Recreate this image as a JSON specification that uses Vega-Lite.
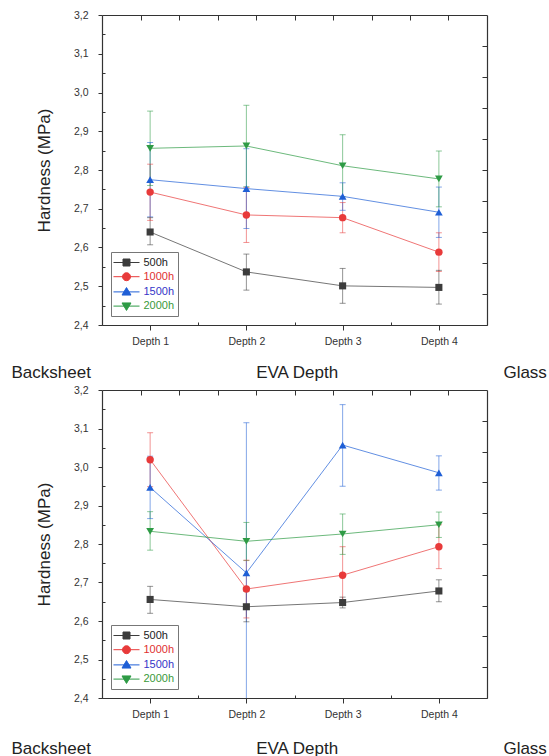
{
  "$schema": "https://vega.github.io/schema/vega-lite/v6.json",
  "padding": {"left": 11, "top": 10, "right": 0, "bottom": 0},
  "spacing": 5,
  "config": {
    "font": "Liberation Sans",
    "view": {"stroke": null},
    "legend": {
      "orient": "bottom-left", "offset": 9, "title": null, "padding": 3, "strokeColor": "#777", "fillColor": "white",
      "labelFont": "Liberation Sans", "labelFontSize": 11, "symbolSize": 196, "rowPadding": 1.2, "labelOffset": 9.5,
      "symbolOffset": 5, "symbolOpacity": 1, "symbolStrokeWidth": 1
    },
    "axis": {
      "domainColor": "#333",
      "domainWidth": 1.2,
      "tickColor": "#333",
      "tickWidth": 1,
      "grid": false,
      "labelFont": "Liberation Sans",
      "labelFontSize": 10.5,
      "labelColor": "#333",
      "titleFont": "Liberation Sans",
      "titleFontWeight": "normal",
      "titleColor": "#222",
      "titleFontSize": 17,
      "labelOverlap": false,
      "labelFlush": false
    }
  },
  "datasets": {
    "hardness": [
      {"panel": "top", "series": "500h", "depth": 1, "h": 2.640, "lo": 2.607, "hi": 2.677},
      {"panel": "top", "series": "500h", "depth": 2, "h": 2.537, "lo": 2.490, "hi": 2.583},
      {"panel": "top", "series": "500h", "depth": 3, "h": 2.501, "lo": 2.456, "hi": 2.546},
      {"panel": "top", "series": "500h", "depth": 4, "h": 2.497, "lo": 2.454, "hi": 2.541},
      {"panel": "top", "series": "1000h", "depth": 1, "h": 2.743, "lo": 2.670, "hi": 2.815},
      {"panel": "top", "series": "1000h", "depth": 2, "h": 2.684, "lo": 2.613, "hi": 2.755},
      {"panel": "top", "series": "1000h", "depth": 3, "h": 2.677, "lo": 2.638, "hi": 2.716},
      {"panel": "top", "series": "1000h", "depth": 4, "h": 2.588, "lo": 2.538, "hi": 2.638},
      {"panel": "top", "series": "1500h", "depth": 1, "h": 2.775, "lo": 2.679, "hi": 2.871},
      {"panel": "top", "series": "1500h", "depth": 2, "h": 2.752, "lo": 2.649, "hi": 2.855},
      {"panel": "top", "series": "1500h", "depth": 3, "h": 2.732, "lo": 2.696, "hi": 2.767},
      {"panel": "top", "series": "1500h", "depth": 4, "h": 2.691, "lo": 2.626, "hi": 2.756},
      {"panel": "top", "series": "2000h", "depth": 1, "h": 2.856, "lo": 2.760, "hi": 2.952},
      {"panel": "top", "series": "2000h", "depth": 2, "h": 2.862, "lo": 2.757, "hi": 2.967},
      {"panel": "top", "series": "2000h", "depth": 3, "h": 2.811, "lo": 2.731, "hi": 2.891},
      {"panel": "top", "series": "2000h", "depth": 4, "h": 2.777, "lo": 2.705, "hi": 2.849},
      {"panel": "bottom", "series": "500h", "depth": 1, "h": 2.656, "lo": 2.620, "hi": 2.690},
      {"panel": "bottom", "series": "500h", "depth": 2, "h": 2.637, "lo": 2.598, "hi": 2.677},
      {"panel": "bottom", "series": "500h", "depth": 3, "h": 2.648, "lo": 2.634, "hi": 2.662},
      {"panel": "bottom", "series": "500h", "depth": 4, "h": 2.678, "lo": 2.650, "hi": 2.707},
      {"panel": "bottom", "series": "1000h", "depth": 1, "h": 3.019, "lo": 2.949, "hi": 3.089},
      {"panel": "bottom", "series": "1000h", "depth": 2, "h": 2.683, "lo": 2.608, "hi": 2.758},
      {"panel": "bottom", "series": "1000h", "depth": 3, "h": 2.719, "lo": 2.645, "hi": 2.793},
      {"panel": "bottom", "series": "1000h", "depth": 4, "h": 2.793, "lo": 2.736, "hi": 2.850},
      {"panel": "bottom", "series": "1500h", "depth": 1, "h": 2.947, "lo": 2.866, "hi": 3.028},
      {"panel": "bottom", "series": "1500h", "depth": 2, "h": 2.725, "lo": 2.335, "hi": 3.115},
      {"panel": "bottom", "series": "1500h", "depth": 3, "h": 3.057, "lo": 2.950, "hi": 3.162},
      {"panel": "bottom", "series": "1500h", "depth": 4, "h": 2.985, "lo": 2.940, "hi": 3.029},
      {"panel": "bottom", "series": "2000h", "depth": 1, "h": 2.833, "lo": 2.784, "hi": 2.884},
      {"panel": "bottom", "series": "2000h", "depth": 2, "h": 2.807, "lo": 2.757, "hi": 2.856},
      {"panel": "bottom", "series": "2000h", "depth": 3, "h": 2.826, "lo": 2.773, "hi": 2.878},
      {"panel": "bottom", "series": "2000h", "depth": 4, "h": 2.850, "lo": 2.817, "hi": 2.883}
    ]
  },
  "resolve": {"legend": {"color": "independent", "shape": "independent", "stroke": "independent"}},
  "vconcat": [
    {
      "width": 385,
      "height": 310,
      "data": {"name": "hardness"},
      "transform": [{"filter": "datum.panel == 'top'"}],
      "resolve": {"axis": {"x": "independent", "y": "independent"}},
      "layer": [
        {
          "mark": {"type": "rule", "clip": true, "strokeWidth": 1, "opacity": 0.55},
          "encoding": {
            "x": {"field": "depth", "type": "quantitative", "scale": {"domain": [0.5, 4.5], "nice": false, "zero": false},
              "axis": {"orient": "bottom", "values": [0.5, 1, 1.5, 2, 2.5, 3, 3.5, 4, 4.5],
                "labelExpr": "datum.value % 1 == 0 ? 'Depth ' + datum.value : ''",
                "tickSize": {"condition": {"test": "datum.value % 1 == 0", "value": 5}, "value": -3},
                "labelPadding": 6,
                "title": "Backsheet\u00a0\u00a0\u00a0\u00a0\u00a0\u00a0\u00a0\u00a0\u00a0\u00a0\u00a0\u00a0\u00a0\u00a0\u00a0\u00a0\u00a0\u00a0\u00a0\u00a0\u00a0\u00a0\u00a0\u00a0\u00a0\u00a0\u00a0\u00a0\u00a0\u00a0\u00a0\u00a0\u00a0\u00a0\u00a0EVA Depth\u00a0\u00a0\u00a0\u00a0\u00a0\u00a0\u00a0\u00a0\u00a0\u00a0\u00a0\u00a0\u00a0\u00a0\u00a0\u00a0\u00a0\u00a0\u00a0\u00a0\u00a0\u00a0\u00a0\u00a0\u00a0\u00a0\u00a0\u00a0\u00a0\u00a0\u00a0\u00a0\u00a0\u00a0\u00a0Glass",
                "titleX": -91, "titleAlign": "left", "titleY": 39, "titleBaseline": "top"}},
            "y": {"field": "lo", "type": "quantitative", "scale": {"domain": [2.4, 3.2], "nice": false, "zero": false},
              "axis": {"orient": "left", "title": "Hardness (MPa)",
                "values": [2.4, 2.45, 2.5, 2.55, 2.6, 2.65, 2.7, 2.75, 2.8, 2.85, 2.9, 2.95, 3.0, 3.05, 3.1, 3.15, 3.2],
                "labelExpr": "abs(datum.value*10 - round(datum.value*10)) < 0.001 ? replace(format(datum.value, '.1f'), '.', ',') : ''",
                "tickSize": {"condition": {"test": "abs(datum.value*10 - round(datum.value*10)) < 0.001", "value": 4}, "value": -3},
                "labelPadding": 10, "titlePadding": 20}},
            "y2": {"field": "hi"},
            "color": {"field": "series", "type": "nominal",
              "scale": {"domain": ["500h", "1000h", "1500h", "2000h"], "range": ["#3c3c3c", "#e83a3a", "#1f5fd6", "#2e9b45"]}}
          }
        },
        {
          "mark": {"type": "tick", "clip": true, "orient": "horizontal", "size": 6, "thickness": 1, "opacity": 0.55},
          "encoding": {
            "x": {"field": "depth", "type": "quantitative", "axis": null},
            "y": {"field": "lo", "type": "quantitative", "axis": null},
            "color": {"field": "series", "type": "nominal"}
          }
        },
        {
          "mark": {"type": "tick", "clip": true, "orient": "horizontal", "size": 6, "thickness": 1, "opacity": 0.55},
          "encoding": {
            "x": {"field": "depth", "type": "quantitative", "axis": null},
            "y": {"field": "hi", "type": "quantitative", "axis": null},
            "color": {"field": "series", "type": "nominal"}
          }
        },
        {
          "mark": {"type": "line", "strokeWidth": 1, "opacity": 0.7},
          "encoding": {
            "x": {"field": "depth", "type": "quantitative",
              "axis": {"orient": "top", "values": [0.9, 1.3, 1.7, 2.1, 2.5, 2.9, 3.3, 3.7, 4.1], "labels": false, "tickSize": -5, "title": null}},
            "y": {"field": "h", "type": "quantitative",
              "axis": {"orient": "right", "values": [2.48, 2.56, 2.64, 2.72, 2.8, 2.88, 2.96, 3.04, 3.12], "labels": false, "tickSize": -5, "title": null}},
            "color": {"field": "series", "type": "nominal"}
          }
        },
        {
          "transform": [{"filter": "datum.series == '500h'"}],
          "mark": {"type": "point", "filled": true, "shape": "square", "size": 50, "opacity": 1},
          "encoding": {
            "x": {"field": "depth", "type": "quantitative", "axis": null},
            "y": {"field": "h", "type": "quantitative", "axis": null},
            "color": {"field": "series", "type": "nominal"}
          }
        },
        {
          "transform": [{"filter": "datum.series == '1000h'"}],
          "mark": {"type": "point", "filled": true, "shape": "circle", "size": 55, "opacity": 1},
          "encoding": {
            "x": {"field": "depth", "type": "quantitative", "axis": null},
            "y": {"field": "h", "type": "quantitative", "axis": null},
            "color": {"field": "series", "type": "nominal"}
          }
        },
        {
          "transform": [{"filter": "datum.series == '1500h'"}],
          "mark": {"type": "point", "filled": true, "shape": "triangle-up", "size": 60, "opacity": 1},
          "encoding": {
            "x": {"field": "depth", "type": "quantitative", "axis": null},
            "y": {"field": "h", "type": "quantitative", "axis": null},
            "color": {"field": "series", "type": "nominal"}
          }
        },
        {
          "transform": [{"filter": "datum.series == '2000h'"}],
          "mark": {"type": "point", "filled": true, "shape": "triangle-down", "size": 60, "opacity": 1},
          "encoding": {
            "x": {"field": "depth", "type": "quantitative", "axis": null},
            "y": {"field": "h", "type": "quantitative", "axis": null},
            "color": {"field": "series", "type": "nominal"}
          }
        },
        {
          "mark": {"type": "point", "filled": true, "size": 196, "opacity": 0},
          "encoding": {
            "x": {"field": "depth", "type": "quantitative", "axis": null},
            "y": {"field": "h", "type": "quantitative", "axis": null},
            "color": {"field": "series", "type": "nominal",
              "legend": {"encode": {"labels": {"update": {
                "fill": {"signal": "datum.value === '500h' ? '#222' : datum.value === '1000h' ? '#e03030' : datum.value === '1500h' ? '#3535c8' : '#3a9a3a'"}}}}}},
            "stroke": {"field": "series", "type": "nominal",
              "scale": {"domain": ["500h", "1000h", "1500h", "2000h"], "range": ["#666666", "#ea6a6a", "#5a85dd", "#5ab070"]}},
            "shape": {"field": "series", "type": "nominal",
              "scale": {"domain": ["500h", "1000h", "1500h", "2000h"],
                "range": ["M-1.86,0H1.86M-0.5,-0.5H0.5V0.5H-0.5Z", "M-1.86,0H1.86M0.57,0A0.57,0.57,0,1,1,-0.57,0A0.57,0.57,0,1,1,0.57,0Z", "M-1.86,0H1.86M0,-0.62L0.64,0.45L-0.64,0.45Z", "M-1.86,0H1.86M0,0.62L0.64,-0.45L-0.64,-0.45Z"]}}
          }
        }
      ]
    },
    {
      "width": 385,
      "height": 308,
      "data": {"name": "hardness"},
      "transform": [{"filter": "datum.panel == 'bottom'"}],
      "resolve": {"axis": {"x": "independent", "y": "independent"}},
      "layer": [
        {
          "mark": {"type": "rule", "clip": true, "strokeWidth": 1, "opacity": 0.55},
          "encoding": {
            "x": {"field": "depth", "type": "quantitative", "scale": {"domain": [0.5, 4.5], "nice": false, "zero": false},
              "axis": {"orient": "bottom", "values": [0.5, 1, 1.5, 2, 2.5, 3, 3.5, 4, 4.5],
                "labelExpr": "datum.value % 1 == 0 ? 'Depth ' + datum.value : ''",
                "tickSize": {"condition": {"test": "datum.value % 1 == 0", "value": 5}, "value": -3},
                "labelPadding": 6,
                "title": "Backsheet\u00a0\u00a0\u00a0\u00a0\u00a0\u00a0\u00a0\u00a0\u00a0\u00a0\u00a0\u00a0\u00a0\u00a0\u00a0\u00a0\u00a0\u00a0\u00a0\u00a0\u00a0\u00a0\u00a0\u00a0\u00a0\u00a0\u00a0\u00a0\u00a0\u00a0\u00a0\u00a0\u00a0\u00a0\u00a0EVA Depth\u00a0\u00a0\u00a0\u00a0\u00a0\u00a0\u00a0\u00a0\u00a0\u00a0\u00a0\u00a0\u00a0\u00a0\u00a0\u00a0\u00a0\u00a0\u00a0\u00a0\u00a0\u00a0\u00a0\u00a0\u00a0\u00a0\u00a0\u00a0\u00a0\u00a0\u00a0\u00a0\u00a0\u00a0\u00a0Glass",
                "titleX": -91, "titleAlign": "left", "titleY": 42, "titleBaseline": "top"}},
            "y": {"field": "lo", "type": "quantitative", "scale": {"domain": [2.4, 3.2], "nice": false, "zero": false},
              "axis": {"orient": "left", "title": "Hardness (MPa)",
                "values": [2.4, 2.45, 2.5, 2.55, 2.6, 2.65, 2.7, 2.75, 2.8, 2.85, 2.9, 2.95, 3.0, 3.05, 3.1, 3.15, 3.2],
                "labelExpr": "abs(datum.value*10 - round(datum.value*10)) < 0.001 ? replace(format(datum.value, '.1f'), '.', ',') : ''",
                "tickSize": {"condition": {"test": "abs(datum.value*10 - round(datum.value*10)) < 0.001", "value": 4}, "value": -3},
                "labelPadding": 10, "titlePadding": 20}},
            "y2": {"field": "hi"},
            "color": {"field": "series", "type": "nominal",
              "scale": {"domain": ["500h", "1000h", "1500h", "2000h"], "range": ["#3c3c3c", "#e83a3a", "#1f5fd6", "#2e9b45"]}}
          }
        },
        {
          "mark": {"type": "tick", "clip": true, "orient": "horizontal", "size": 6, "thickness": 1, "opacity": 0.55},
          "encoding": {
            "x": {"field": "depth", "type": "quantitative", "axis": null},
            "y": {"field": "lo", "type": "quantitative", "axis": null},
            "color": {"field": "series", "type": "nominal"}
          }
        },
        {
          "mark": {"type": "tick", "clip": true, "orient": "horizontal", "size": 6, "thickness": 1, "opacity": 0.55},
          "encoding": {
            "x": {"field": "depth", "type": "quantitative", "axis": null},
            "y": {"field": "hi", "type": "quantitative", "axis": null},
            "color": {"field": "series", "type": "nominal"}
          }
        },
        {
          "mark": {"type": "line", "strokeWidth": 1, "opacity": 0.7},
          "encoding": {
            "x": {"field": "depth", "type": "quantitative",
              "axis": {"orient": "top", "values": [0.9, 1.3, 1.7, 2.1, 2.5, 2.9, 3.3, 3.7, 4.1], "labels": false, "tickSize": -5, "title": null}},
            "y": {"field": "h", "type": "quantitative",
              "axis": {"orient": "right", "values": [2.48, 2.56, 2.64, 2.72, 2.8, 2.88, 2.96, 3.04, 3.12], "labels": false, "tickSize": -5, "title": null}},
            "color": {"field": "series", "type": "nominal"}
          }
        },
        {
          "transform": [{"filter": "datum.series == '500h'"}],
          "mark": {"type": "point", "filled": true, "shape": "square", "size": 50, "opacity": 1},
          "encoding": {
            "x": {"field": "depth", "type": "quantitative", "axis": null},
            "y": {"field": "h", "type": "quantitative", "axis": null},
            "color": {"field": "series", "type": "nominal"}
          }
        },
        {
          "transform": [{"filter": "datum.series == '1000h'"}],
          "mark": {"type": "point", "filled": true, "shape": "circle", "size": 55, "opacity": 1},
          "encoding": {
            "x": {"field": "depth", "type": "quantitative", "axis": null},
            "y": {"field": "h", "type": "quantitative", "axis": null},
            "color": {"field": "series", "type": "nominal"}
          }
        },
        {
          "transform": [{"filter": "datum.series == '1500h'"}],
          "mark": {"type": "point", "filled": true, "shape": "triangle-up", "size": 60, "opacity": 1},
          "encoding": {
            "x": {"field": "depth", "type": "quantitative", "axis": null},
            "y": {"field": "h", "type": "quantitative", "axis": null},
            "color": {"field": "series", "type": "nominal"}
          }
        },
        {
          "transform": [{"filter": "datum.series == '2000h'"}],
          "mark": {"type": "point", "filled": true, "shape": "triangle-down", "size": 60, "opacity": 1},
          "encoding": {
            "x": {"field": "depth", "type": "quantitative", "axis": null},
            "y": {"field": "h", "type": "quantitative", "axis": null},
            "color": {"field": "series", "type": "nominal"}
          }
        },
        {
          "mark": {"type": "point", "filled": true, "size": 196, "opacity": 0},
          "encoding": {
            "x": {"field": "depth", "type": "quantitative", "axis": null},
            "y": {"field": "h", "type": "quantitative", "axis": null},
            "color": {"field": "series", "type": "nominal",
              "legend": {"encode": {"labels": {"update": {
                "fill": {"signal": "datum.value === '500h' ? '#222' : datum.value === '1000h' ? '#e03030' : datum.value === '1500h' ? '#3535c8' : '#3a9a3a'"}}}}}},
            "stroke": {"field": "series", "type": "nominal",
              "scale": {"domain": ["500h", "1000h", "1500h", "2000h"], "range": ["#666666", "#ea6a6a", "#5a85dd", "#5ab070"]}},
            "shape": {"field": "series", "type": "nominal",
              "scale": {"domain": ["500h", "1000h", "1500h", "2000h"],
                "range": ["M-1.86,0H1.86M-0.5,-0.5H0.5V0.5H-0.5Z", "M-1.86,0H1.86M0.57,0A0.57,0.57,0,1,1,-0.57,0A0.57,0.57,0,1,1,0.57,0Z", "M-1.86,0H1.86M0,-0.62L0.64,0.45L-0.64,0.45Z", "M-1.86,0H1.86M0,0.62L0.64,-0.45L-0.64,-0.45Z"]}}
          }
        }
      ]
    }
  ]
}
